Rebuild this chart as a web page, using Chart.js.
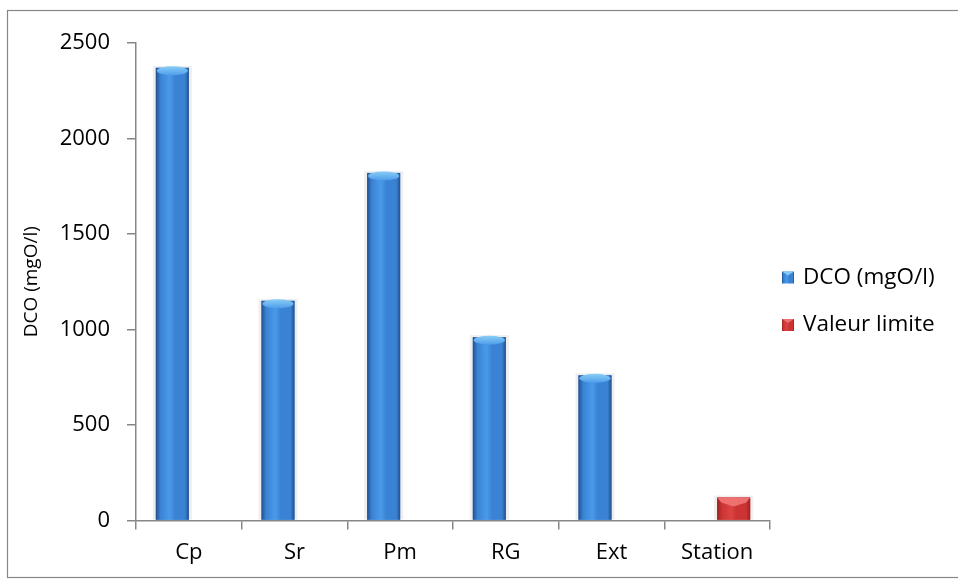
<!DOCTYPE html>
<html>
<head>
<meta charset="utf-8">
<script src="https://cdn.jsdelivr.net/npm/chart.js@4/dist/chart.umd.min.js"></script>
<style>
  html, body { margin: 0; padding: 0; background: #ffffff; }
  #wrap { width: 958px; height: 582px; position: relative; }
</style>
</head>
<body>
<div id="wrap"><canvas id="c" width="958" height="582"></canvas></div>
<script>
// Sampling points and measured chemical oxygen demand
const categories = ['Cp', 'Sr', 'Pm', 'RG', 'Ext', 'Station'];
const dcoValues = [2370, 1150, 1820, 960, 760, null];
const limitValues = [null, null, null, null, null, 120];
const yTicks = [0, 500, 1000, 1500, 2000, 2500];
const seriesNames = ['DCO (mgO/l)', 'Valeur limite'];
const yTitle = 'DCO (mgO/l)';

const FONT = "'Open Sans', 'DejaVu Sans', sans-serif";
const AXIS_GREY = '#878787';

const palette = {
  blue: { base: '#3a82d4', edge: '#22508c', mid: '#4a9aea', cap: '#86cbf6' },
  red:  { base: '#cc3333', edge: '#9e2020', mid: '#dc4343', cap: '#ee7070' }
};

function shadeGradient(ctx, left, right, p) {
  const g = ctx.createLinearGradient(left, 0, right, 0);
  g.addColorStop(0, p.edge);
  g.addColorStop(0.14, p.base);
  g.addColorStop(0.42, p.mid);
  g.addColorStop(0.58, p.base);
  g.addColorStop(0.88, p.base);
  g.addColorStop(1, p.edge);
  return g;
}

// Adds the cylinder / box shading on top of the library's bars
const barShading = {
  id: 'barShading',
  beforeDatasetsDraw(chart) {
    const ctx = chart.ctx;
    ctx.save();
    chart.data.datasets.forEach((ds, i) => {
      chart.getDatasetMeta(i).data.forEach((bar, j) => {
        if (ds.data[j] == null) return;
        const { x, y, base, width } = bar.getProps(['x', 'y', 'base', 'width'], true);
        ctx.fillStyle = '#efefef';
        ctx.fillRect(x - width / 2 - 3, y - 2, width + 6, base - y + 2);
      });
    });
    ctx.restore();
  },
  afterDatasetsDraw(chart) {
    const ctx = chart.ctx;
    ctx.save();
    chart.data.datasets.forEach((ds, i) => {
      const p = i === 0 ? palette.blue : palette.red;
      chart.getDatasetMeta(i).data.forEach((bar, j) => {
        if (ds.data[j] == null) return;
        const { x, y, base, width } = bar.getProps(['x', 'y', 'base', 'width'], true);
        const l = x - width / 2, r = x + width / 2;
        ctx.fillStyle = shadeGradient(ctx, l, r, p);
        ctx.fillRect(l, y, width, base - y);
        if (i === 0) {
          // elliptical cap of the cylinder
          const cg = ctx.createLinearGradient(0, y - 1, 0, y + 8);
          cg.addColorStop(0, p.cap);
          cg.addColorStop(1, p.mid);
          ctx.fillStyle = cg;
          ctx.beginPath();
          ctx.ellipse(x, y + 3, width / 2 - 1, 4.5, 0, 0, Math.PI * 2);
          ctx.fill();
        } else {
          // bevelled top of the box
          ctx.fillStyle = p.cap;
          ctx.beginPath();
          ctx.moveTo(l, y);
          ctx.lineTo(r, y);
          ctx.lineTo(r - 4, y + 5);
          ctx.lineTo(x, y + 9);
          ctx.lineTo(l + 4, y + 5);
          ctx.closePath();
          ctx.fill();
        }
      });
    });
    ctx.restore();
  }
};

// Legend at the right and the outer frame
const sideLegend = {
  id: 'sideLegend',
  afterDraw(chart) {
    const ctx = chart.ctx;
    ctx.save();
    const items = [
      { text: seriesNames[0], p: palette.blue, cy: 277.5 },
      { text: seriesNames[1], p: palette.red, cy: 325 }
    ];
    items.forEach(it => {
      const s = 12, bx = 782, by = it.cy - s / 2;
      ctx.fillStyle = shadeGradient(ctx, bx, bx + s, it.p);
      ctx.fillRect(bx, by, s, s);
      ctx.fillStyle = it.p.cap;
      ctx.beginPath();
      ctx.moveTo(bx, by);
      ctx.lineTo(bx + s, by);
      ctx.lineTo(bx + s / 2, by + 4);
      ctx.closePath();
      ctx.fill();
      ctx.fillStyle = '#000000';
      ctx.font = '22.5px ' + FONT;
      ctx.textBaseline = 'middle';
      ctx.textAlign = 'left';
      ctx.fillText(it.text, 803, it.cy);
    });
    ctx.strokeStyle = AXIS_GREY;
    ctx.lineWidth = 1.2;
    ctx.strokeRect(7.5, 10.5, 1000, 567);
    ctx.restore();
  }
};

new Chart(document.getElementById('c'), {
  type: 'bar',
  data: {
    labels: categories,
    datasets: [
      { label: seriesNames[0], data: dcoValues, backgroundColor: palette.blue.base,
        barPercentage: 1, categoryPercentage: 0.625 },
      { label: seriesNames[1], data: limitValues, backgroundColor: palette.red.base,
        barPercentage: 1, categoryPercentage: 0.625 }
    ]
  },
  options: {
    responsive: false,
    animation: false,
    layout: { padding: { left: 0, top: 43, right: 188, bottom: 0 } },
    plugins: { legend: { display: false }, tooltip: { enabled: false } },
    scales: {
      x: {
        grid: { display: true, drawOnChartArea: false, drawTicks: true, tickLength: 9,
                color: AXIS_GREY, lineWidth: 1.5, offset: true },
        border: { color: AXIS_GREY, width: 1.5 },
        ticks: { color: '#000000', font: { family: FONT, size: 22 }, padding: 10, maxRotation: 0 },
        afterFit(scale) { scale.height = 61.5; }
      },
      y: {
        min: 0,
        max: 2500,
        afterBuildTicks(scale) { scale.ticks = yTicks.map(v => ({ value: v })); },
        grid: { display: true, drawOnChartArea: false, drawTicks: true, tickLength: 9,
                color: AXIS_GREY, lineWidth: 1.5 },
        border: { color: AXIS_GREY, width: 1.5 },
        ticks: { color: '#000000', font: { family: FONT, size: 22 }, padding: 17,
                 callback: v => String(v) },
        title: { display: true, text: yTitle, color: '#000000',
                 font: { family: FONT, size: 19 }, padding: { top: 20, bottom: 0 } },
        afterFit(scale) { scale.width = 136; }
      }
    }
  },
  plugins: [barShading, sideLegend]
});
</script>
</body>
</html>
